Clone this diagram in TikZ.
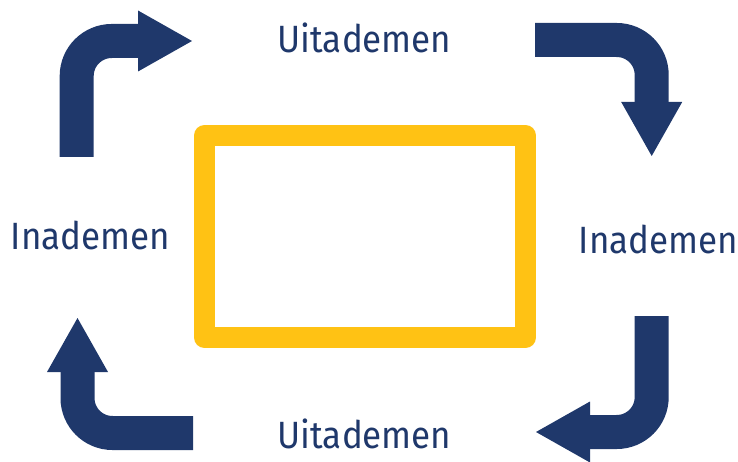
\documentclass[tikz,border=0pt]{standalone}
\usepackage{fontspec}
\setmainfont{Fira Sans}
\newfontfamily\lblfont[FakeStretch=0.92]{Fira Sans}
\usetikzlibrary{arrows.meta}
\definecolor{navy}{RGB}{31,56,107}
\definecolor{gold}{RGB}{255,194,20}
\tikzset{
  lbl/.style={text=navy, font=\lblfont\fontsize{38}{38}\selectfont, inner sep=0pt, anchor=base},
  flow/.style={draw=navy, line width=34pt, rounded corners=35pt,
    -{Triangle[length=54pt, width=61pt, line width=0pt]}},
  frame/.style={draw=gold, line width=21pt, line join=round}
}
\begin{document}
\begin{tikzpicture}[x=1pt, y=-1pt]
\useasboundingbox (0,0) rectangle (738,462);
% central frame
\draw[frame] (204.5,135.5) rectangle (525.5,337.5);
% labels
\node[lbl] (uitTop) at (364.5,53) {Uitademen};
\node[lbl] (inRight) at (658.5,253) {Inademen};
\node[lbl] (uitBot) at (364.5,448) {Uitademen};
\node[lbl] (inLeft) at (90.5,250) {Inademen};
% arrow end points
\coordinate (a1s) at (76.7,157);  \coordinate (a1c) at (76.7,41);   \coordinate (a1e) at (192,41);
\coordinate (a2s) at (535,40);    \coordinate (a2c) at (651.7,40);  \coordinate (a2e) at (651.7,156);
\coordinate (a3s) at (651.7,316); \coordinate (a3c) at (651.7,432); \coordinate (a3e) at (536,432);
\coordinate (a4s) at (193,433);   \coordinate (a4c) at (77.5,433);  \coordinate (a4e) at (77.5,318);
% cycle arrows
\draw[flow] (a1s) -- (a1c) -- (a1e);
\draw[flow] (a2s) -- (a2c) -- (a2e);
\draw[flow] (a3s) -- (a3c) -- (a3e);
\draw[flow] (a4s) -- (a4c) -- (a4e);
\end{tikzpicture}
\end{document}
